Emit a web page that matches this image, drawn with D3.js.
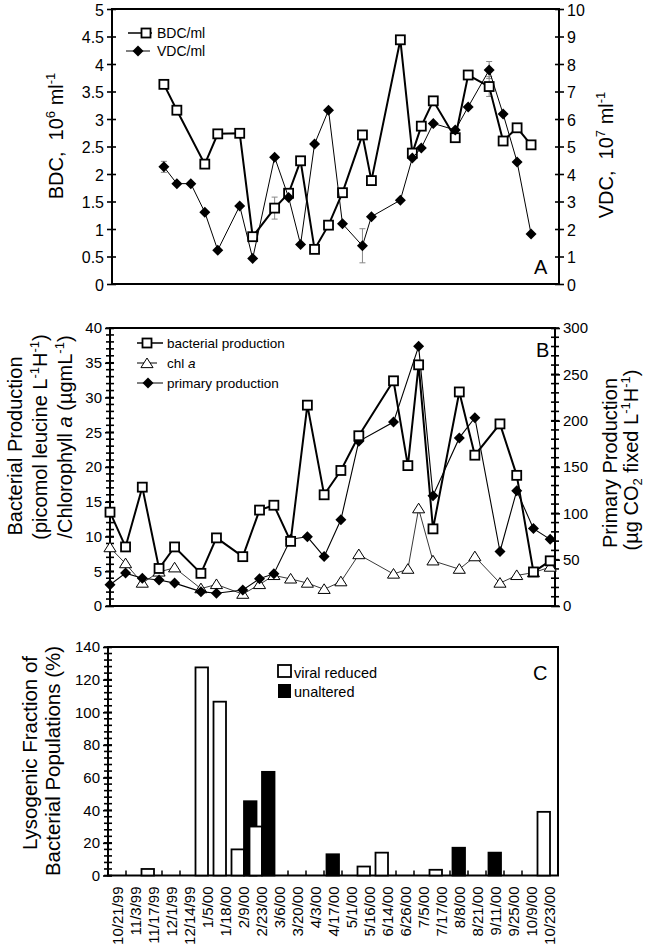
<!DOCTYPE html>
<html><head><meta charset="utf-8">
<script src="https://cdn.jsdelivr.net/npm/d3@7"></script>
<style>
body{margin:0;background:#fff}
svg{display:block}
text{font-family:"Liberation Sans",Arial,Helvetica,sans-serif;fill:#000;white-space:pre}
</style>
</head><body>
<svg id="chart" width="650" height="949"></svg>
<script>
// ---------- DATA ----------
const sampleDates = ["10/21/99","11/3/99","11/17/99","12/1/99","12/14/99","1/5/00","1/18/00","2/9/00","2/23/00","3/6/00","3/20/00","4/3/00","4/17/00","5/1/00","5/16/00","6/14/00","6/26/00","7/5/00","7/17/00","8/8/00","8/21/00","9/11/00","9/25/00","10/9/00","10/23/00"];
// panel A positions (one sample plotted a week later)
const datesA = ["10/21/99","11/3/99","11/17/99","12/1/99","12/14/99","1/5/00","1/18/00","2/9/00","2/23/00","3/6/00","3/20/00","4/3/00","4/17/00","5/7/00","5/16/00","6/14/00","6/26/00","7/5/00","7/17/00","8/8/00","8/21/00","9/11/00","9/25/00","10/9/00","10/23/00"];

// Panel A
const bdc    = [3.63,3.16,null,2.18,2.73,2.74,0.86,1.38,1.65,2.24,0.63,1.07,1.66,2.71,1.88,4.44,2.38,2.87,3.33,2.66,3.80,3.59,2.60,2.84,2.53];
const bdcErr = [null,null,null,null,null,null,null,0.2,null,null,null,null,null,null,null,null,null,null,null,null,null,0.18,null,null,null];
const vdc    = [4.26,3.65,3.65,2.61,1.23,2.84,0.93,4.61,3.15,1.44,5.09,6.32,2.19,1.39,2.45,3.05,4.58,4.95,5.84,5.60,6.44,7.78,6.18,4.44,1.82];
const vdcErr = [0.2,null,null,null,null,null,null,null,null,null,null,null,null,0.62,null,null,null,null,null,null,null,0.31,null,null,null];
const ticksA_left  = [0,0.5,1,1.5,2,2.5,3,3.5,4,4.5,5];
const ticksA_right = [0,1,2,3,4,5,6,7,8,9,10];

// Panel B
const bacterialProd = [13.5,8.5,17.1,5.4,8.5,4.7,9.8,7.1,13.8,14.5,9.3,28.9,16.0,19.5,24.5,32.4,20.2,34.7,11.1,30.8,21.7,26.2,18.8,4.9,6.5];
const chlA          = [8.4,6.1,3.3,4.9,5.5,2.5,3.1,1.7,3.1,4.4,3.9,3.3,2.4,3.5,7.4,4.6,5.3,14.0,6.5,5.3,7.1,3.3,4.4,4.8,5.6];
const primaryProd   = [23,35.5,30,28,24.7,15.5,13.7,17.3,29.4,34.9,72,74.7,53.3,93,177.7,198.5,null,280.2,119.1,181.4,203.2,58.8,124.3,83.5,71.9];
const ticksB_left  = [0,5,10,15,20,25,30,35,40];
const ticksB_right = [0,50,100,150,200,250,300];
const minorB_left  = d3.range(0, 41, 1);
const minorB_right = d3.range(0, 301, 10);

// Panel C
const viralReduced = [null,null,4,null,null,127.5,106.5,16,30,null,null,null,null,null,5.5,14,null,null,3.5,null,null,null,null,null,39];
const unaltered    = [null,null,null,null,null,null,null,45.5,63.5,null,null,null,13,null,null,null,null,null,null,17,null,14,null,null,null];
const ticksC = [0,20,40,60,80,100,120,140];
const minorC = d3.range(0, 141, 4);

// ---------- HELPERS ----------
const parse = d3.timeParse("%m/%d/%y");
const svg = d3.select("#chart");
const FONT = '"Liberation Sans",Arial,sans-serif';

function rich(g, x, y, parts, fs, anchor, rot) {
  const t = g.append("text")
    .attr("transform", `translate(${x},${y}) rotate(${rot||0})`)
    .attr("text-anchor", anchor || "start")
    .attr("font-size", fs);
  let shift = 0;
  parts.forEach(p => {
    const s = p.sup ? -0.38 * fs : p.sub ? 0.22 * fs : 0;
    t.append("tspan")
      .attr("dy", s - shift)
      .attr("font-size", (p.sup || p.sub) ? fs * 0.65 : fs)
      .attr("font-style", p.it ? "italic" : null)
      .text(p.t);
    shift = s;
  });
  return t;
}

function vAxis(g, scale, x, majors, minors, side, fs, dy) {
  if (minors) {
    g.append("g").selectAll("line").data(minors).join("line")
      .attr("x1", x - 4).attr("x2", x + 4)
      .attr("y1", d => scale(d)).attr("y2", d => scale(d))
      .attr("stroke", "#000").attr("stroke-width", 1.6);
  }
  const mk = side < 0 ? d3.axisLeft : d3.axisRight;
  const ga = g.append("g").attr("transform", `translate(${x},0)`)
    .call(mk(scale).tickValues(majors).tickFormat(d => String(d)).tickSize(5).tickPadding(3));
  ga.select(".domain").remove();
  ga.selectAll(".tick line").attr("x1", -side * 4).attr("stroke", "#000").attr("stroke-width", 1.6);
  ga.selectAll(".tick text").attr("font-size", fs).attr("font-family", FONT).attr("fill", "#000")
    .attr("dy", dy || "0.32em");
  ga.attr("font-size", null).attr("font-family", null);
}

function square(g, x, y, s) {
  g.append("rect").attr("x", x - s / 2).attr("y", y - s / 2).attr("width", s).attr("height", s)
    .attr("fill", "#fff").attr("stroke", "#000").attr("stroke-width", 1.8);
}
function diamond(g, x, y, s) {
  g.append("path").attr("d", `M${x},${y - s}L${x + s},${y}L${x},${y + s}L${x - s},${y}Z`).attr("fill", "#000");
}
function triangle(g, x, y, s) {
  g.append("path").attr("d", `M${x},${y - s}L${x + s * 1.1},${y + s * 0.75}L${x - s * 1.1},${y + s * 0.75}Z`)
    .attr("fill", "#fff").attr("stroke", "#000").attr("stroke-width", 1);
}

// ---------- PANEL A ----------
const A = {l: 112, r: 559, t: 9, b: 284};
const xA = d3.scaleTime().domain([new Date(1999, 7, 30), new Date(2000, 10, 20)]).range([A.l, A.r]);
const yA = d3.scaleLinear().domain([0, 5]).range([A.b, A.t]);
const yA2 = d3.scaleLinear().domain([0, 10]).range([A.b, A.t]);
const gA = svg.append("g");

vAxis(gA, yA, A.l, ticksA_left, null, -1, 16, "0.38em");
vAxis(gA, yA2, A.r, ticksA_right, null, 1, 16, "0.38em");
gA.append("rect").attr("x", A.l).attr("y", A.t).attr("width", A.r - A.l).attr("height", A.b - A.t)
  .attr("fill", "none").attr("stroke", "#000").attr("stroke-width", 2);

const ptsA = datesA.map(parse);
function errBar(g, x, y0, y1) {
  g.append("line").attr("x1", x).attr("x2", x).attr("y1", y0).attr("y2", y1).attr("stroke", "#888").attr("stroke-width", 1);
  [y0, y1].forEach(y => g.append("line").attr("x1", x - 3).attr("x2", x + 3).attr("y1", y).attr("y2", y).attr("stroke", "#888").attr("stroke-width", 1));
}
bdc.forEach((v, i) => { if (v != null && bdcErr[i]) errBar(gA, xA(ptsA[i]), yA(v - bdcErr[i]), yA(v + bdcErr[i])); });
vdc.forEach((v, i) => { if (v != null && vdcErr[i]) errBar(gA, xA(ptsA[i]), yA2(v - vdcErr[i]), yA2(v + vdcErr[i])); });

const bdcPts = bdc.map((v, i) => ({d: ptsA[i], v})).filter(d => d.v != null);
gA.append("path").attr("d", d3.line().x(d => xA(d.d)).y(d => yA(d.v))(bdcPts))
  .attr("fill", "none").attr("stroke", "#000").attr("stroke-width", 2);
bdcPts.forEach(d => square(gA, xA(d.d), yA(d.v), 9));

const vdcPts = vdc.map((v, i) => ({d: ptsA[i], v})).filter(d => d.v != null);
gA.append("path").attr("d", d3.line().x(d => xA(d.d)).y(d => yA2(d.v))(vdcPts))
  .attr("fill", "none").attr("stroke", "#000").attr("stroke-width", 1);
vdcPts.forEach(d => diamond(gA, xA(d.d), yA2(d.v), 5.5));

// legend A
gA.append("line").attr("x1", 128).attr("x2", 152).attr("y1", 33).attr("y2", 33).attr("stroke", "#000").attr("stroke-width", 1.5);
square(gA, 146, 33, 9);
gA.append("text").attr("x", 157).attr("y", 38).attr("font-size", 14).text("BDC/ml");
gA.append("line").attr("x1", 126).attr("x2", 150).attr("y1", 51).attr("y2", 51).attr("stroke", "#000").attr("stroke-width", 1);
diamond(gA, 138, 51, 5.5);
gA.append("text").attr("x", 157).attr("y", 56).attr("font-size", 14).text("VDC/ml");

rich(gA, 63, 136, [{t: "BDC,  10"}, {t: "6", sup: 1}, {t: " ml"}, {t: "-1", sup: 1}], 20, "middle", -90);
rich(gA, 613, 155, [{t: "VDC,  10"}, {t: "7", sup: 1}, {t: " ml"}, {t: "-1", sup: 1}], 20, "middle", -90);
gA.append("text").attr("x", 534).attr("y", 274).attr("font-size", 20).text("A");

// ---------- PANEL B ----------
const B = {l: 110, r: 555, t: 328, b: 606};
const xB = d3.scaleTime().domain([new Date(1999, 9, 21), new Date(2000, 9, 27)]).range([B.l, B.r]);
const yB = d3.scaleLinear().domain([0, 40]).range([B.b, B.t]);
const yB2 = d3.scaleLinear().domain([0, 300]).range([B.b, B.t]);
const gB = svg.append("g");

vAxis(gB, yB, B.l, ticksB_left, minorB_left, -1, 15);
vAxis(gB, yB2, B.r, ticksB_right, minorB_right, 1, 15);
gB.append("rect").attr("x", B.l).attr("y", B.t).attr("width", B.r - B.l).attr("height", B.b - B.t)
  .attr("fill", "none").attr("stroke", "#000").attr("stroke-width", 2);

const ptsB = sampleDates.map(parse);
const chlPts = chlA.map((v, i) => ({d: ptsB[i], v})).filter(d => d.v != null);
gB.append("path").attr("d", d3.line().x(d => xB(d.d)).y(d => yB(d.v))(chlPts))
  .attr("fill", "none").attr("stroke", "#222").attr("stroke-width", 0.9);
chlPts.forEach(d => triangle(gB, xB(d.d), yB(d.v), 5.5));

const ppPts = primaryProd.map((v, i) => ({d: ptsB[i], v})).filter(d => d.v != null);
gB.append("path").attr("d", d3.line().x(d => xB(d.d)).y(d => yB2(d.v))(ppPts))
  .attr("fill", "none").attr("stroke", "#000").attr("stroke-width", 1.1);
ppPts.forEach(d => diamond(gB, xB(d.d), yB2(d.v), 5.5));

const bpPts = bacterialProd.map((v, i) => ({d: ptsB[i], v})).filter(d => d.v != null);
gB.append("path").attr("d", d3.line().x(d => xB(d.d)).y(d => yB(d.v))(bpPts))
  .attr("fill", "none").attr("stroke", "#000").attr("stroke-width", 2);
bpPts.forEach(d => square(gB, xB(d.d), yB(d.v), 9));

// legend B
gB.append("line").attr("x1", 137).attr("x2", 163).attr("y1", 343).attr("y2", 343).attr("stroke", "#000").attr("stroke-width", 1.5);
square(gB, 147, 343, 9);
gB.append("text").attr("x", 167).attr("y", 347.5).attr("font-size", 13.5).text("bacterial production");
gB.append("line").attr("x1", 137).attr("x2", 157).attr("y1", 363).attr("y2", 363).attr("stroke", "#000").attr("stroke-width", 1);
triangle(gB, 147, 363.5, 5.5);
const tChl = gB.append("text").attr("x", 167).attr("y", 368).attr("font-size", 13.5);
tChl.append("tspan").text("chl ");
tChl.append("tspan").attr("font-style", "italic").text("a");
gB.append("line").attr("x1", 137).attr("x2", 163).attr("y1", 383).attr("y2", 383).attr("stroke", "#000").attr("stroke-width", 1);
diamond(gB, 148, 383, 5.5);
gB.append("text").attr("x", 167).attr("y", 387.5).attr("font-size", 13.5).text("primary production");

rich(gB, 21.5, 446, [{t: "Bacterial Production"}], 20, "middle", -90);
rich(gB, 46.5, 437, [{t: "(picomol leucine L"}, {t: "-1", sup: 1}, {t: "H"}, {t: "-1", sup: 1}, {t: ")"}], 20, "middle", -90);
rich(gB, 71.5, 437, [{t: "/Chlorophyll "}, {t: "a", it: 1}, {t: " (\u00b5gmL"}, {t: "-1", sup: 1}, {t: ")"}], 20, "middle", -90);
rich(gB, 616.5, 463, [{t: "Primary Production"}], 20, "middle", -90);
rich(gB, 638, 460, [{t: "(\u00b5g CO"}, {t: "2", sub: 1}, {t: " fixed L"}, {t: "-1", sup: 1}, {t: "H"}, {t: "-1", sup: 1}, {t: ")"}], 20, "middle", -90);
gB.append("text").attr("x", 536).attr("y", 357).attr("font-size", 20).text("B");

// ---------- PANEL C ----------
const C = {l: 108, r: 558, t: 647, b: 875.5};
const xC = d3.scaleBand().domain(sampleDates).range([C.l, C.r]).padding(0);
const yC = d3.scaleLinear().domain([0, 140]).range([C.b, C.t]);
const gC = svg.append("g");

vAxis(gC, yC, C.l, ticksC, minorC, -1, 15);
gC.append("rect").attr("x", C.l).attr("y", C.t).attr("width", C.r - C.l).attr("height", C.b - C.t)
  .attr("fill", "none").attr("stroke", "#000").attr("stroke-width", 2);

// category boundary ticks
gC.append("g").selectAll("line").data(sampleDates.slice(1)).join("line")
  .attr("x1", d => xC(d)).attr("x2", d => xC(d)).attr("y1", C.b).attr("y2", C.b - 5)
  .attr("stroke", "#000").attr("stroke-width", 1.5);
// bars
const bw = xC.bandwidth();
sampleDates.forEach((d, i) => {
  const c = xC(d) + bw / 2;
  const w = viralReduced[i], u = unaltered[i];
  if (w != null) {
    gC.append("rect").attr("x", c - 11.5).attr("y", yC(w)).attr("width", 12.5).attr("height", yC(0) - yC(w))
      .attr("fill", "#fff").attr("stroke", "#000").attr("stroke-width", 1.8);
  }
  if (u != null) {
    const x0 = w != null ? c + 1 : c - 6.5;
    gC.append("rect").attr("x", x0).attr("y", yC(u)).attr("width", 12.5).attr("height", yC(0) - yC(u))
      .attr("fill", "#000").attr("stroke", "#000").attr("stroke-width", 1.8);
  }
});
// x axis labels
const gxC = gC.append("g").attr("transform", `translate(0,${C.b})`)
  .call(d3.axisBottom(xC).tickSize(0).tickPadding(0));
gxC.select(".domain").remove();
gxC.selectAll(".tick text")
  .attr("transform", "translate(5.5,11) rotate(-90)")
  .attr("text-anchor", "end").attr("dy", 0).attr("y", 0).attr("x", 0)
  .attr("font-size", 15).attr("font-family", FONT).attr("fill", "#000");
gxC.attr("font-size", null).attr("font-family", null);

// legend C
gC.append("rect").attr("x", 278).attr("y", 665).attr("width", 13).attr("height", 12).attr("fill", "#fff").attr("stroke", "#000").attr("stroke-width", 1.8);
gC.append("text").attr("x", 294).attr("y", 677.5).attr("font-size", 14.5).text("viral reduced");
gC.append("rect").attr("x", 278).attr("y", 684).attr("width", 13).attr("height", 14).attr("fill", "#000");
gC.append("text").attr("x", 294).attr("y", 696.5).attr("font-size", 14.5).text("unaltered");

rich(gC, 37, 753, [{t: "Lysogenic Fraction of"}], 20.5, "middle", -90);
rich(gC, 60, 761, [{t: "Bacterial Populations (%)"}], 20.5, "middle", -90);
gC.append("text").attr("x", 533).attr("y", 679.5).attr("font-size", 20).text("C");
</script>
</body></html>
